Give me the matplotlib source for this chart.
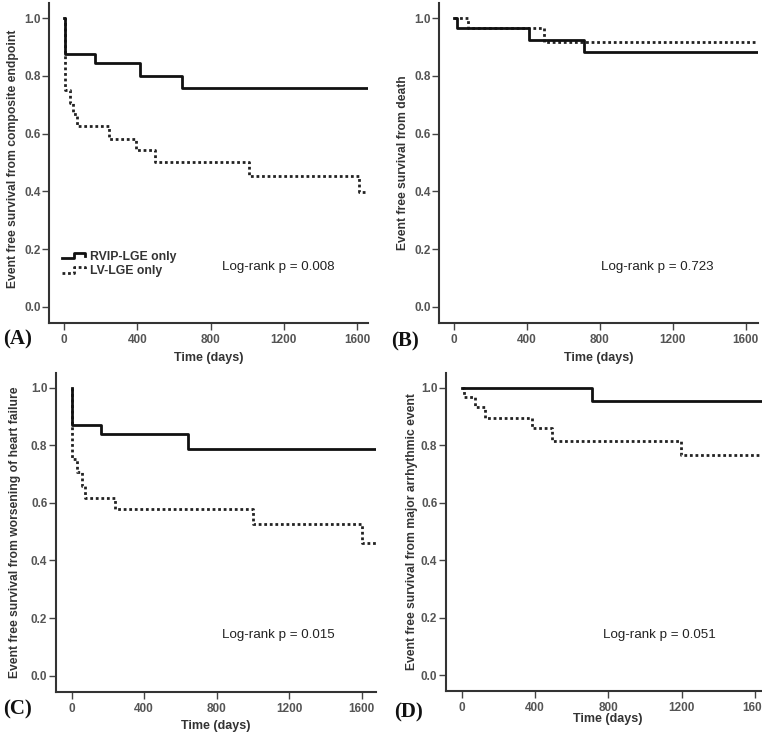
import matplotlib
matplotlib.use("Agg")
import matplotlib.pyplot as plt
from matplotlib.lines import Line2D
from matplotlib.legend_handler import HandlerBase

# ---------------- data ----------------
# Panel A: composite endpoint
a_rvip_t = [0, 4, 170, 415, 645, 1660]
a_rvip_s = [1.0, 0.875, 0.844, 0.800, 0.757, 0.757]
a_lv_t = [0, 3, 33, 51, 69, 245, 391, 498, 1008, 1613, 1660]
a_lv_s = [1.0, 0.750, 0.708, 0.667, 0.625, 0.583, 0.542, 0.500, 0.453, 0.397, 0.397]

# Panel B: death
b_rvip_t = [0, 18, 413, 715, 1667]
b_rvip_s = [1.0, 0.965, 0.925, 0.882, 0.882]
b_lv_t = [0, 78, 494, 1667]
b_lv_s = [1.0, 0.965, 0.917, 0.917]

# Panel C: worsening of heart failure
c_rvip_t = [0, 3, 161, 642, 1679]
c_rvip_s = [1.0, 0.870, 0.839, 0.787, 0.787]
c_lv_t = [0, 3, 27, 55, 73, 239, 1000, 1602, 1679]
c_lv_s = [1.0, 0.751, 0.708, 0.660, 0.618, 0.579, 0.528, 0.459, 0.459]

# Panel D: major arrhythmic event
d_rvip_t = [0, 712, 1682]
d_rvip_s = [1.0, 0.953, 0.953]
d_lv_t = [0, 14, 73, 128, 385, 492, 1196, 1682]
d_lv_s = [1.0, 0.966, 0.932, 0.896, 0.860, 0.815, 0.766, 0.766]

ylabels = ["Event free survival from composite endpoint",
           "Event free survival from death",
           "Event free survival from worsening of heart failure",
           "Event free survival from major arrhythmic event"]
pvals = ["Log-rank p = 0.008", "Log-rank p = 0.723",
         "Log-rank p = 0.015", "Log-rank p = 0.051"]
letters = ["(A)", "(B)", "(C)", "(D)"]
xticks = [0, 400, 800, 1200, 1600]
yticks = [0.0, 0.2, 0.4, 0.6, 0.8, 1.0]
legend_labels = ["RVIP-LGE only", "LV-LGE only"]

# ---------------- layout (pixels) ----------------
W, H = 762, 735
fig = plt.figure(figsize=(W / 100, H / 100), dpi=100)
fig.patch.set_facecolor("white")

panels = [
    dict(box=(49, 368, 3, 323), xlim=(-82, 1660), ylim=(-0.0565, 1.053),
         rv=(a_rvip_t, a_rvip_s), lv=(a_lv_t, a_lv_s),
         ptxt=(278, 267), let=(18, 339), xl=358, yl=(13, 159)),
    dict(box=(439, 758, 3, 323), xlim=(-82, 1667), ylim=(-0.0565, 1.053),
         rv=(b_rvip_t, b_rvip_s), lv=(b_lv_t, b_lv_s),
         ptxt=(657, 267), let=(405, 341), xl=358, yl=(403, 163)),
    dict(box=(55.7, 376, 373, 691.7), xlim=(-88, 1679), ylim=(-0.0556, 1.051),
         rv=(c_rvip_t, c_rvip_s), lv=(c_lv_t, c_lv_s),
         ptxt=(278, 635), let=(17, 709), xl=726, yl=(15, 532)),
    dict(box=(445.7, 770, 373, 691), xlim=(-87, 1682), ylim=(-0.0556, 1.051),
         rv=(d_rvip_t, d_rvip_s), lv=(d_lv_t, d_lv_s),
         ptxt=(659, 635), let=(408, 712), xl=719, yl=(412, 532)),
]

SANS = ["Liberation Sans", "DejaVu Sans"]
SERIF = ["Liberation Serif", "DejaVu Serif"]


class StepHandler(HandlerBase):
    def create_artists(self, legend, orig_handle, xdescent, ydescent,
                       width, height, fontsize, trans):
        x0 = -xdescent
        y0 = -ydescent
        lo = y0 + height * 0.2
        hi = y0 + height * 0.85
        xs = [x0, x0 + width * 0.5, x0 + width * 0.5, x0 + width, x0 + width]
        ys = [lo, lo, hi, hi, lo + height * 0.25]
        ln = Line2D(xs, ys, color=orig_handle.get_color(),
                    linestyle="-",
                    linewidth=orig_handle.get_linewidth())
        if orig_handle.get_linestyle() not in ("-", "solid"):
            ln.set_dashes((1, 1))
        ln.set_transform(trans)
        return [ln]


for i, p in enumerate(panels):
    l, r, t, b = p["box"]
    ax = fig.add_axes([l / W, (H - b) / H, (r - l) / W, (b - t) / H])
    ax.set_facecolor("white")
    ax.set_xlim(*p["xlim"])
    ax.set_ylim(*p["ylim"])
    ax.step(p["rv"][0], p["rv"][1], where="post", color="#111111",
            linewidth=2.0, zorder=3)
    lv_line, = ax.step(p["lv"][0], p["lv"][1], where="post", color="#222222",
                       linewidth=2.0, zorder=2)
    lv_line.set_dashes((1, 1))

    for s in ("top", "right"):
        ax.spines[s].set_visible(False)
    for s in ("left", "bottom"):
        ax.spines[s].set_color("#333333")
        ax.spines[s].set_linewidth(1.5)

    ax.set_xticks(xticks)
    ax.set_xticklabels([str(v) for v in xticks])
    ax.set_yticks(yticks)
    ax.set_yticklabels(["%.1f" % v for v in yticks])
    ax.tick_params(axis="both", direction="out", length=5, width=1.0,
                   color="#444444", labelcolor="#555555", labelsize=8.5)
    ax.tick_params(axis="y", pad=1)
    ax.tick_params(axis="x", pad=3)
    for lab in ax.get_xticklabels() + ax.get_yticklabels():
        lab.set_fontfamily(SANS)
        lab.set_fontweight("bold")

    ax.set_xlabel("Time (days)", fontsize=9, fontweight="bold",
                  family=SANS, color="#333333")
    ax.xaxis.label.set_va("center")
    ax.xaxis.set_label_coords(((l + r) / 2 - l) / (r - l), (b - p["xl"]) / (b - t))
    ax.set_ylabel(ylabels[i], fontsize=8.7, fontweight="bold",
                  family=SANS, color="#333333")
    ax.yaxis.label.set_va("center")
    ylx, yly = p["yl"]
    ax.yaxis.set_label_coords((ylx - l) / (r - l), (b - yly) / (b - t))

    px, py = p["ptxt"]
    fig.text(px / W, (H - py) / H, pvals[i], ha="center", va="center",
             fontsize=9.6, family=SANS, color="#222222")
    lx, ly = p["let"]
    fig.text(lx / W, (H - ly) / H, letters[i], ha="center", va="center",
             fontsize=15, fontweight="bold", family=SERIF, color="#111111")

    if i == 0:
        h1 = Line2D([], [], color="#111111", linewidth=2.0, linestyle="-")
        h2 = Line2D([], [], color="#222222", linewidth=2.0, linestyle=":")
        leg = ax.legend([h1, h2], legend_labels,
                        handler_map={Line2D: StepHandler()},
                        loc="upper left",
                        bbox_to_anchor=((62 - l) / (r - l), (b - 251) / (b - t)),
                        frameon=False, fontsize=8.8, handlelength=1.9,
                        handletextpad=0.4, labelspacing=0.2,
                        borderpad=0.0, borderaxespad=0.0)
        for txt in leg.get_texts():
            txt.set_fontfamily(SANS)
            txt.set_fontweight("bold")
            txt.set_color("#333333")

fig.savefig("out.png", dpi=100, facecolor="white")
